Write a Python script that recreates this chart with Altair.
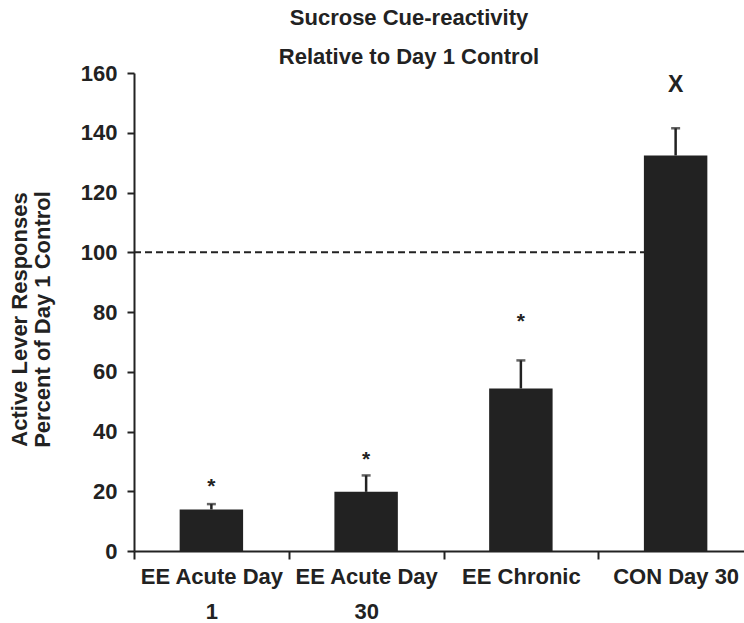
import altair as alt
import pandas as pd

categories = ["EE Acute Day 1", "EE Acute Day 30", "EE Chronic", "CON Day 30"]
label_lines = {
    "EE Acute Day 1": ["EE Acute Day", "1"],
    "EE Acute Day 30": ["EE Acute Day", "30"],
}
means = [13.9, 19.8, 54.4, 132.4]
upper = [15.7, 25.3, 63.8, 141.5]
marks_text = ["*", "*", "*", "X"]
marks_y = [21.5, 30.5, 76.5, 156.0]
reference = 100

FONT = "Liberation Sans"
INK = "#222222"
FS = 22

df = pd.DataFrame({"cat": categories, "mean": means, "upper": upper,
                   "sig": marks_text, "sig_y": marks_y})
ref_df = pd.DataFrame({"start": [categories[0]], "end": [categories[-1]], "ref": [reference]})

label_expr = " : ".join(
    f"datum.label == '{k}' ? {v!r}" for k, v in label_lines.items()
) + " : datum.label"

xscale = alt.Scale(domain=categories, range=[0, 619], paddingInner=0, paddingOuter=0)
xenc = alt.X("cat:N", scale=xscale, sort=categories, title=None,
             axis=alt.Axis(labelAngle=0, labelAlign="center", labelExpr=label_expr,
                           tickBand="extent",
                           labelFont=FONT, labelFontSize=FS, labelFontWeight="bold",
                           labelColor=INK, labelLineHeight=35, labelPadding=17,
                           domainColor=INK, domainWidth=2, tickColor=INK, tickWidth=2,
                           tickSize=8))
yscale = alt.Scale(domain=[0, 160], nice=False, zero=True)
yaxis = alt.Axis(values=list(range(0, 161, 20)), grid=False,
                 title=["Active Lever Responses", "Percent of Day 1 Control"],
                 titleFont=FONT, titleFontSize=FS, titleFontWeight="bold", titleColor=INK,
                 titleLineHeight=23, titlePadding=26, titleY=246,
                 labelFont=FONT, labelFontSize=FS, labelFontWeight="bold", labelColor=INK,
                 labelPadding=10, domainColor=INK, domainWidth=2, tickColor=INK, tickWidth=2,
                 tickSize=7)

base = alt.Chart(df)

refline = alt.Chart(ref_df).mark_rule(color=INK, strokeWidth=2, strokeDash=[7, 4]).encode(
    x=alt.X("start:N", scale=xscale, bandPosition=0),
    x2=alt.X2("end:N"),
    y=alt.Y("ref:Q", scale=yscale),
)

bars = base.mark_bar(color=INK, width=alt.RelativeBandSize(0.41)).encode(
    x=xenc,
    y=alt.Y("mean:Q", scale=yscale, axis=yaxis),
)

err = base.mark_rule(color=INK, strokeWidth=2.5).encode(
    x=alt.X("cat:N", scale=xscale, sort=categories),
    y=alt.Y("mean:Q", scale=yscale),
    y2="upper:Q",
)
caps = base.mark_tick(color=INK, thickness=2.5, size=9, orient="horizontal").encode(
    x=alt.X("cat:N", scale=xscale, sort=categories),
    y=alt.Y("upper:Q", scale=yscale),
)
sig = base.mark_text(font=FONT, fontWeight="bold", color=INK, baseline="middle").encode(
    x=alt.X("cat:N", scale=xscale, sort=categories),
    y=alt.Y("sig_y:Q", scale=yscale),
    text="sig:N",
    size=alt.condition(alt.datum.sig == "X", alt.value(23), alt.value(21)),
)

chart = alt.layer(refline, bars, err, caps, sig).properties(
    width=610, height=478, autosize="none",
    padding={"left": 134, "top": 73, "right": 0, "bottom": 72},
    title=alt.TitleParams(
        text=["Sucrose Cue-reactivity", "Relative to Day 1 Control"],
        font=FONT, fontSize=FS, fontWeight="bold", color=INK,
        lineHeight=39, anchor="middle", dx=-30, offset=-7,
    ),
).configure_view(stroke=None)

chart.save("out.html", embed_options={"renderer": "svg", "actions": False})
